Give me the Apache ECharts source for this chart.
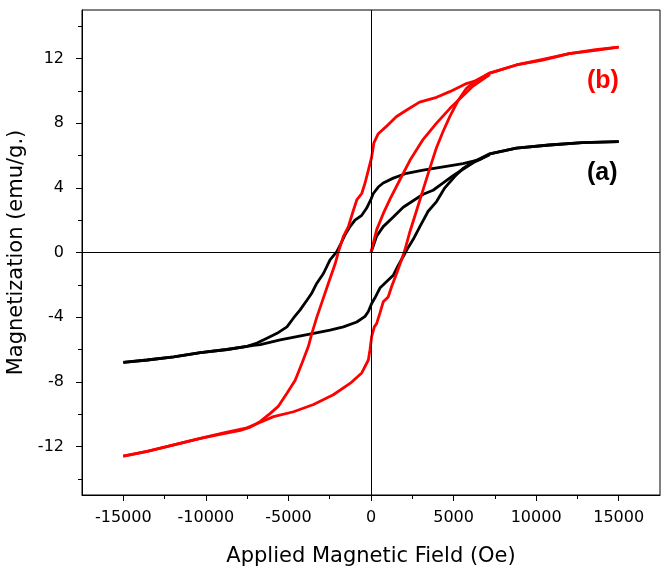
<!DOCTYPE html>
<html>
<head>
<meta charset="utf-8">
<script src="https://cdn.jsdelivr.net/npm/echarts@6/dist/echarts.min.js"></script>
<style>html,body{margin:0;padding:0;background:#fff}#c{width:666px;height:574px}</style>
</head>
<body>
<div id="c"></div>
<script>
// Sample (a) - black
const aVirgin = [[0,0],[340,1.0],[740,1.6],[1350,2.2],[1950,2.8],[2550,3.2],[3160,3.6],[3760,3.85],[4370,4.3],[4970,4.75],[5570,5.15],[6180,5.55],[7190,6.05]];
const aDown = [[15000,6.86],[12800,6.8],[10800,6.65],[8800,6.45],[7190,6.1],[6580,5.75],[5570,5.5],[4370,5.3],[3160,5.1],[2160,4.9],[1350,4.6],[740,4.3],[440,4.05],[140,3.65],[0,3.3],[-260,2.75],[-560,2.3],[-970,2.0],[-1270,1.6],[-1570,1.1],[-1870,0.45],[-2070,0.05],[-2480,-0.45],[-2880,-1.3],[-3280,-1.9],[-3580,-2.5],[-3880,-2.95],[-4290,-3.55],[-4690,-4.05],[-5090,-4.6],[-5690,-5.0],[-6300,-5.3],[-6900,-5.6],[-7510,-5.8],[-8720,-6.0],[-10330,-6.2],[-11940,-6.45],[-13550,-6.65],[-15000,-6.8]];
const aUp = [[-15000,-6.8],[-13550,-6.65],[-11940,-6.45],[-10330,-6.2],[-8720,-6.0],[-7110,-5.75],[-6700,-5.7],[-5500,-5.4],[-4490,-5.2],[-3480,-5.0],[-2480,-4.8],[-1670,-4.6],[-860,-4.3],[-360,-3.95],[-160,-3.65],[40,-3.15],[240,-2.8],[540,-2.2],[950,-1.8],[1350,-1.4],[1650,-0.8],[1950,-0.25],[2160,0.15],[2550,0.8],[2960,1.6],[3460,2.55],[3970,3.15],[4470,4.0],[5070,4.7],[5570,5.2],[6180,5.6],[7190,6.1],[8800,6.45],[10800,6.65],[12800,6.8],[15000,6.86]];
// Sample (b) - red
const bVirgin = [[0,0],[340,1.4],[740,2.4],[1150,3.3],[1750,4.5],[2360,5.7],[3160,7.0],[3970,8.0],[4770,8.9],[5570,9.7],[6180,10.3],[7190,11.0]];
const bDown = [[15000,12.7],[13600,12.5],[12000,12.3],[10400,11.9],[8800,11.6],[7190,11.1],[6580,10.7],[5780,10.45],[4770,9.95],[3970,9.6],[2940,9.3],[2140,8.8],[1530,8.4],[930,7.8],[440,7.35],[180,6.8],[40,5.9],[-160,5.1],[-360,4.3],[-560,3.65],[-860,3.25],[-1070,2.6],[-1370,1.6],[-1670,1.0],[-1970,0.05],[-2170,-0.7],[-2580,-1.9],[-2980,-3.1],[-3280,-4.0],[-3580,-5.0],[-3790,-5.8],[-4180,-6.85],[-4590,-7.9],[-5090,-8.7],[-5600,-9.5],[-6100,-9.95],[-6700,-10.45],[-7310,-10.8],[-7910,-11.0],[-8920,-11.2],[-10330,-11.5],[-11940,-11.9],[-13550,-12.3],[-15000,-12.6]];
const bUp = [[-15000,-12.6],[-13550,-12.3],[-11940,-11.9],[-10330,-11.5],[-8920,-11.15],[-7510,-10.85],[-6700,-10.5],[-5900,-10.15],[-4690,-9.85],[-3480,-9.4],[-2280,-8.8],[-1270,-8.1],[-560,-7.45],[-160,-6.65],[-60,-6.0],[40,-5.2],[200,-4.6],[340,-4.4],[540,-3.75],[740,-3.05],[1040,-2.75],[1250,-2.1],[1550,-1.3],[1850,-0.45],[2050,0.15],[2360,1.3],[2760,2.6],[3160,3.9],[3560,5.2],[3970,6.5],[4370,7.5],[4770,8.4],[5270,9.4],[5780,10.15],[6380,10.65],[7190,11.1],[8800,11.6],[10400,11.95],[12000,12.3],[13600,12.55],[15000,12.7]];

const xLabels = [-15000,-10000,-5000,0,5000,10000,15000];
const xMinor = [-12500,-7500,-2500,2500,7500,12500];
const yLabels = [-12,-8,-4,0,4,8,12];
const yMinor = [-14,-10,-6,-2,2,6,10,14];

const FONT = 'DejaVu Sans, Liberation Sans, sans-serif';
const BFONT = 'Liberation Sans, Arial, sans-serif';
const chart = echarts.init(document.getElementById('c'));

function line(data, color, withZero) {
  const s = {type:'line', data:data, showSymbol:false, symbol:'none', smooth:false, silent:true,
    lineStyle:{color:color, width:2.8}, itemStyle:{color:color}, z:3};
  if (withZero) {
    s.markLine = {silent:true, symbol:'none', label:{show:false},
      lineStyle:{color:'#000', width:1, type:'solid'},
      data:[{xAxis:0},{yAxis:0}]};
  }
  return s;
}
const plain = v => String(v);

chart.setOption({
  animation:false,
  backgroundColor:'#fff',
  grid:{left:82, right:6, top:10, bottom:79, show:true, borderColor:'#000', borderWidth:1,
        containLabel:false, outerBoundsMode:'none'},
  xAxis:[{
    type:'value', min:-17500, max:17500, position:'bottom',
    name:'Applied Magnetic Field (Oe)', nameLocation:'middle', nameGap:51,
    nameTextStyle:{fontFamily:FONT, fontSize:21, color:'#000'},
    axisLine:{show:true, onZero:false, lineStyle:{color:'#000', width:1}},
    axisTick:{show:true, inside:false, length:6, customValues:xLabels, lineStyle:{color:'#000'}},
    axisLabel:{customValues:xLabels, formatter:plain, margin:15, fontFamily:FONT, fontSize:16, color:'#000'},
    splitLine:{show:false}
  },{
    type:'value', min:-17500, max:17500, position:'bottom', gridIndex:0,
    axisLine:{show:false, onZero:false},
    axisTick:{show:true, inside:false, length:4, customValues:xMinor, lineStyle:{color:'#000'}},
    axisLabel:{show:false, customValues:xMinor},
    splitLine:{show:false}
  }],
  yAxis:[{
    type:'value', min:-15, max:15, position:'left',
    name:'Magnetization (emu/g.)', nameLocation:'middle', nameGap:42,
    nameTextStyle:{fontFamily:FONT, fontSize:21, color:'#000'},
    axisLine:{show:true, onZero:false, lineStyle:{color:'#000', width:1}},
    axisTick:{show:true, inside:false, length:6, customValues:yLabels, lineStyle:{color:'#000'}},
    axisLabel:{customValues:yLabels, formatter:plain, margin:18, fontFamily:FONT, fontSize:16, color:'#000'},
    splitLine:{show:false}
  },{
    type:'value', min:-15, max:15, position:'left',
    axisLine:{show:false, onZero:false},
    axisTick:{show:true, inside:false, length:4, customValues:yMinor, lineStyle:{color:'#000'}},
    axisLabel:{show:false, customValues:yMinor},
    splitLine:{show:false}
  }],
  series:[
    line(aVirgin,'#000',true), line(aDown,'#000'), line(aUp,'#000'),
    line(bVirgin,'#ff0000'), line(bDown,'#ff0000'), line(bUp,'#ff0000')
  ],
  graphic:[
    {type:'text', left:587, top:69, style:{text:'(b)', fill:'#ff0000', font:'bold 25px ' + BFONT}},
    {type:'text', left:587, top:161, style:{text:'(a)', fill:'#000', font:'bold 25px ' + BFONT}}
  ]
});
</script>
</body>
</html>
